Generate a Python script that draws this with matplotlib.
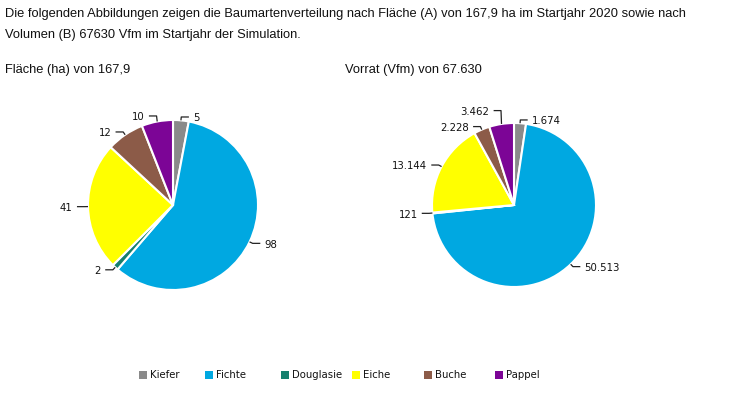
import matplotlib
matplotlib.use("Agg")
import matplotlib.pyplot as plt
import numpy as np
from matplotlib.patches import Rectangle

categories = ["Kiefer", "Fichte", "Douglasie", "Eiche", "Buche", "Pappel"]
flaeche = [5, 98, 2, 41, 12, 10]
flaeche_labels = ["5", "98", "2", "41", "12", "10"]
vorrat = [1674, 50513, 121, 13144, 2228, 3462]
vorrat_labels = ["1.674", "50.513", "121", "13.144", "2.228", "3.462"]
colors = ["#8a8a8a", "#00a8e1", "#16806e", "#ffff00", "#8c5b48", "#7c0596"]

title = ("Die folgenden Abbildungen zeigen die Baumartenverteilung nach Fläche (A) von 167,9 ha im Startjahr 2020 sowie nach\n"
         "Volumen (B) 67630 Vfm im Startjahr der Simulation.")
sub_left = "Fläche (ha) von 167,9"
sub_right = "Vorrat (Vfm) von 67.630"

W, H = 735, 397
fig = plt.figure(figsize=(W / 100, H / 100), dpi=100)
fig.patch.set_facecolor("white")

TFONT = ["Liberation Sans", "DejaVu Sans"]
LFONT = ["DejaVu Sans"]

fig.text(5 / W, 1 - 8 / H, title, ha="left", va="top", fontsize=9.3,
         family=TFONT, linespacing=2.0, color="#111111")
fig.text(5 / W, 1 - 70 / H, sub_left, ha="left", va="center", fontsize=9.3,
         family=TFONT, color="#111111")
fig.text(345 / W, 1 - 70 / H, sub_right, ha="left", va="center", fontsize=9.3,
         family=TFONT, color="#111111")


def draw_pie(cx, cy, r, values, labels):
    ax = fig.add_axes([(cx - r) / W, 1 - (cy + r) / H, 2 * r / W, 2 * r / H])
    wedges, _ = ax.pie(values, colors=colors, startangle=90, counterclock=False,
                       radius=1.0, wedgeprops=dict(edgecolor="white", linewidth=1.5))
    ax.set_xlim(-1, 1)
    ax.set_ylim(-1, 1)
    ax.set_aspect("equal")
    ax.axis("off")
    gap = 16.0 / r
    items = []
    for w, lab in zip(wedges, labels):
        ang = np.deg2rad((w.theta1 + w.theta2) / 2)
        ca, sa = np.cos(ang), np.sin(ang)
        side = 1 if ca >= 0 else -1
        items.append(dict(lab=lab, ca=ca, sa=sa, side=side, y=1.04 * sa))
    for side in (1, -1):
        grp = sorted([it for it in items if it["side"] == side], key=lambda it: it["y"])
        for i in range(1, len(grp)):
            if grp[i]["y"] < grp[i - 1]["y"] + gap:
                grp[i]["y"] = grp[i - 1]["y"] + gap
    for it in items:
        ca, sa, side = it["ca"], it["sa"], it["side"]
        p0 = (1.0 * ca, 1.0 * sa)
        p1 = (1.04 * ca, it["y"])
        p2 = (p1[0] + side * 0.09, p1[1])
        ax.plot([p0[0], p1[0], p2[0]], [p0[1], p1[1], p2[1]], color="#222222",
                lw=0.9, clip_on=False, solid_capstyle="butt")
        ax.text(p2[0] + side * 0.05, p2[1] - 0.015, it["lab"],
                ha="left" if side > 0 else "right",
                va="center", fontsize=7.3, family=LFONT, color="#111111", clip_on=False)
    return ax


draw_pie(173, 205, 85, flaeche, flaeche_labels)
draw_pie(514, 205, 82, vorrat, vorrat_labels)

# legend
leg_x = [139, 205, 281, 352, 424, 495]
for x, name, c in zip(leg_x, categories, colors):
    fig.patches.append(Rectangle((x / W, 1 - 379 / H), 8 / W, 8 / H, transform=fig.transFigure,
                                 facecolor=c, edgecolor="none"))
    fig.text((x + 11) / W, 1 - 375 / H, name, ha="left", va="center", fontsize=7.3,
             family=LFONT, color="#111111")

fig.savefig("out.png", dpi=100, facecolor="white")
